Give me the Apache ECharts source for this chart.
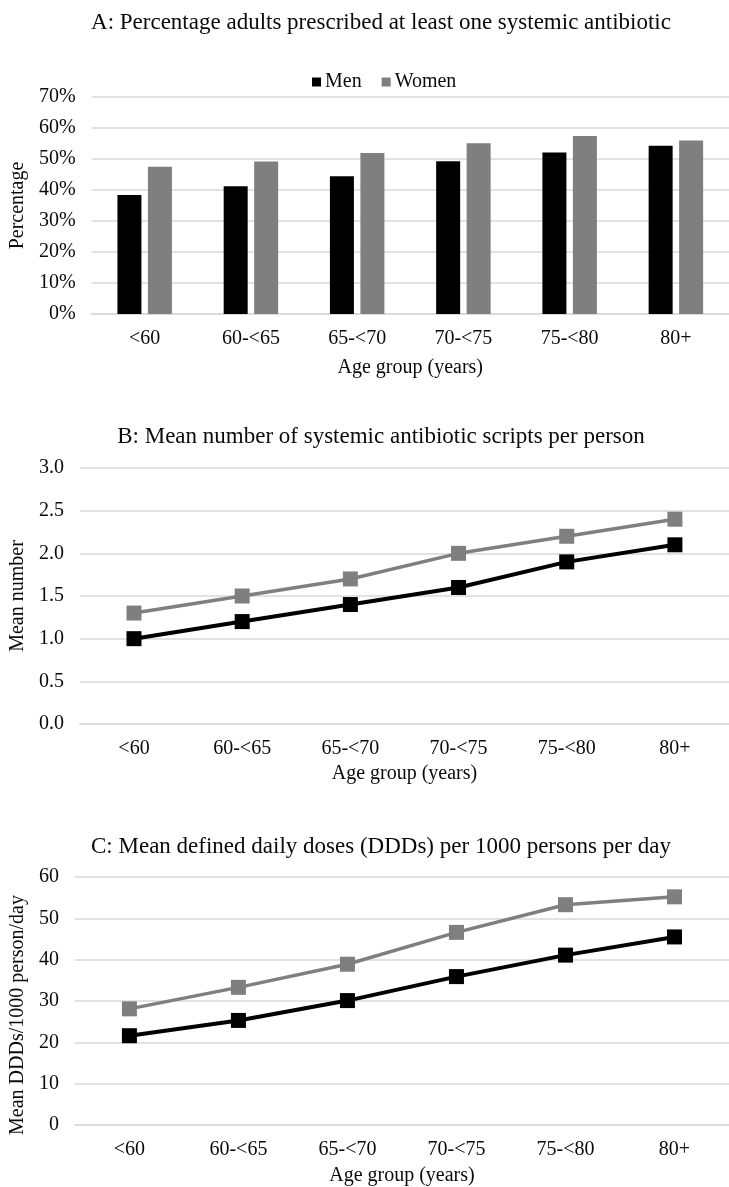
<!DOCTYPE html>
<html>
<head>
<meta charset="utf-8">
<script src="https://cdn.jsdelivr.net/npm/echarts@6/dist/echarts.min.js"></script>
<style>
  html, body { margin: 0; padding: 0; background: #fff; }
  #chart { width: 729px; height: 1187px; }
</style>
</head>
<body>
<div id="chart"></div>
<script>
const ageGroups = ['<60', '60-<65', '65-<70', '70-<75', '75-<80', '80+']

// A: percentage prescribed at least one antibiotic
const pctMen = [38.4, 41.2, 44.4, 49.3, 52.1, 54.3]
const pctWomen = [47.5, 49.2, 51.9, 55.1, 57.4, 56.0]

// B: mean scripts per person
const scriptsMen = [1.0, 1.2, 1.4, 1.6, 1.9, 2.1]
const scriptsWomen = [1.3, 1.5, 1.7, 2.0, 2.2, 2.4]

// C: mean DDDs per 1000 persons per day
const dddMen = [21.6, 25.3, 30.1, 35.9, 41.1, 45.5]
const dddWomen = [28.1, 33.3, 38.9, 46.6, 53.3, 55.2]

const titles = [
  'A: Percentage adults prescribed at least one systemic antibiotic',
  'B: Mean number of systemic antibiotic scripts per person',
  'C: Mean defined daily doses (DDDs) per 1000 persons per day',
]
const yNames = ['Percentage', 'Mean number', 'Mean DDDs/1000 person/day']
const xName = 'Age group (years)'

const FONT = "'Liberation Serif', 'DejaVu Serif', serif"
const TXT = '#0a0a0a'
const GRID_COLOR = '#d9d9d9'
const MEN_COLOR = '#000000'
const WOMEN_COLOR = '#7f7f7f'

const chart = echarts.init(document.getElementById('chart'))

const xAxisBase = (gridIndex, nameGap) => ({
  type: 'category',
  gridIndex,
  data: ageGroups,
  name: xName,
  nameLocation: 'middle',
  nameGap,
  nameTextStyle: { fontFamily: FONT, fontSize: 20, color: TXT },
  axisLine: { lineStyle: { color: GRID_COLOR, width: 1.5 } },
  axisTick: { show: false },
  axisLabel: { fontFamily: FONT, fontSize: 20, color: TXT, margin: 15 },
})

const yAxisBase = (gridIndex, name, nameGap, min, max, interval, fmt, namePad) => ({
  type: 'value',
  gridIndex,
  min,
  max,
  interval,
  name,
  nameLocation: 'middle',
  nameGap,
  nameRotate: 90,
  nameTextStyle: { fontFamily: FONT, fontSize: 20, color: TXT, padding: namePad || 0 },
  axisLine: { show: false },
  axisTick: { show: false },
  splitLine: { lineStyle: { color: GRID_COLOR, width: 1.5 } },
  axisLabel: { fontFamily: FONT, fontSize: 20, color: TXT, margin: 16, formatter: fmt },
})

const lineSeries = (name, data, color, idx) => ({
  name,
  type: 'line',
  xAxisIndex: idx,
  yAxisIndex: idx,
  data,
  symbol: 'rect',
  symbolSize: 15,
  showSymbol: true,
  lineStyle: { color, width: name === 'Men' ? 4 : 3.5 },
  itemStyle: { color },
  z: name === 'Men' ? 3 : 2,
})

const option = {
  animation: false,
  backgroundColor: '#fff',
  title: titles.map((t, i) => ({
    text: t,
    left: 376,
    top: [6, 420, 830][i],
    textAlign: 'center',
    textStyle: { fontFamily: FONT, fontSize: 23, fontWeight: 'normal', color: TXT },
  })),
  legend: {
    data: ['Men', 'Women'],
    left: 307,
    top: 67,
    icon: 'rect',
    itemWidth: 9,
    itemHeight: 9,
    itemGap: 20,
    textStyle: { fontFamily: FONT, fontSize: 20, color: TXT, padding: [0, 0, 0, -1] },
  },
  grid: [
    { left: 88, right: -9, top: 97, height: 217 },
    { left: 77, right: -4, top: 468, height: 256 },
    { left: 72, right: -3, top: 877, height: 250 },
  ],
  xAxis: [
    xAxisBase(0, 44),
    xAxisBase(1, 40),
    xAxisBase(2, 41),
  ],
  yAxis: [
    yAxisBase(0, yNames[0], 48, 0, 70, 10, '{value}%'),
    yAxisBase(1, yNames[1], 37, 0, 3, 0.5, (v) => v.toFixed(1)),
    yAxisBase(2, yNames[2], 33, 0, 60, 10, '{value}', [0, 28, 0, 0]),
  ],
  series: [
    {
      name: 'Men',
      type: 'bar',
      xAxisIndex: 0,
      yAxisIndex: 0,
      data: pctMen,
      barWidth: 24,
      barGap: '27%',
      itemStyle: { color: MEN_COLOR },
    },
    {
      name: 'Women',
      type: 'bar',
      xAxisIndex: 0,
      yAxisIndex: 0,
      data: pctWomen,
      barWidth: 24,
      barGap: '27%',
      itemStyle: { color: WOMEN_COLOR },
    },
    lineSeries('Women', scriptsWomen, WOMEN_COLOR, 1),
    lineSeries('Men', scriptsMen, MEN_COLOR, 1),
    lineSeries('Women', dddWomen, WOMEN_COLOR, 2),
    lineSeries('Men', dddMen, MEN_COLOR, 2),
  ],
}

chart.setOption(option)
</script>
</body>
</html>
